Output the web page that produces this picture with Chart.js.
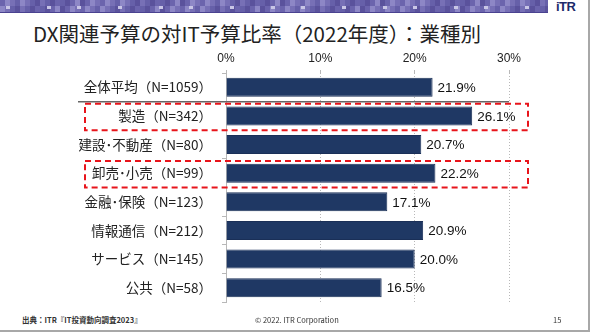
<!DOCTYPE html>
<html>
<head>
<meta charset="utf-8">
<script src="https://cdn.jsdelivr.net/npm/chart.js@4"></script>
<style>
  body { margin: 0; background: #fff; }
  #slide { position: relative; width: 590px; height: 332px; overflow: hidden; font-family: "Noto Sans CJK JP", "Noto Sans", sans-serif; color: #222; }
  #slide::after { content: ''; position: absolute; left: 0; top: 0; right: 0; bottom: 0; border-right: 2px solid #a8a8a8; border-bottom: 2px solid #a8a8a8; pointer-events: none; }
  #banner { position: absolute; left: 0; top: 0; width: 548px; height: 13px; }
  #logo { position: absolute; left: 556px; top: -1px; font: bold 13px "Liberation Sans", Arial, sans-serif; color: #1d2a6b; letter-spacing: -0.5px; }
  #title { position: absolute; left: 33px; top: 18px; font-size: 20.5px; white-space: nowrap; }
  .foot { position: absolute; top: 314px; font-size: 7.5px; color: #333; white-space: nowrap; }
  #chartWrap { position: absolute; left: 0; top: 0; width: 590px; height: 332px; }
</style>
</head>
<body>
<div id="slide">
  <canvas id="banner" width="548" height="13"></canvas>
  <div id="logo">iTR</div>
  <div id="title">DX関連予算の対IT予算比率（2022年度）：業種別</div>
  <div class="foot" style="left:22px;font-weight:bold;">出典：ITR『IT投資動向調査2023』</div>
  <div class="foot" style="left:255px;">© 2022. ITR Corporation</div>
  <div class="foot" style="left:553px;">15</div>
  <div id="chartWrap"><canvas id="chart"></canvas></div>
</div>
<script>
const categories = ['全体平均（N=1059）', '製造（N=342）', '建設･不動産（N=80）', '卸売･小売（N=99）', '金融･保険（N=123）', '情報通信（N=212）', 'サービス（N=145）', '公共（N=58）'];
const values = [21.9, 26.1, 20.7, 22.2, 17.1, 20.9, 20.0, 16.5];
const highlighted = [1, 3];
const xTicks = [0, 10, 20, 30];

// Banner mosaic
const bctx = document.getElementById('banner').getContext('2d');
bctx.fillStyle = '#5f57a3';
bctx.fillRect(0, 0, 548, 13);
const shades = ['#6b64ad', '#7770b6', '#5a529c', '#8d87c6', '#6660a9'];
for (let i = 0; i < 110; i++) {
  for (let j = 0; j < 2; j++) {
    bctx.fillStyle = shades[(i * 7 + j * 3 + (i % 4)) % shades.length];
    bctx.fillRect(i * 5, j * 6, 5, 6);
  }
}
for (let i = 3; i < 548; i += 37) {
  bctx.fillStyle = '#c9c6e6';
  bctx.fillRect(i + (i % 11), 6, 4, 3);
}
bctx.fillStyle = '#4a4290';
bctx.fillRect(0, 12, 548, 1);

const overlayPlugin = {
  id: 'overlay',
  afterDatasetsDraw(chart) {
    const { ctx, chartArea } = chart;
    const y = chart.scales.y;
    const half = (y.getPixelForValue(1) - y.getPixelForValue(0)) / 2;
    ctx.save();
    // separator under the average row
    ctx.strokeStyle = '#666';
    ctx.lineWidth = 1.5;
    ctx.beginPath();
    ctx.moveTo(78, y.getPixelForValue(0) + half);
    ctx.lineTo(chartArea.right, y.getPixelForValue(0) + half);
    ctx.stroke();
    // red dashed boxes
    ctx.strokeStyle = '#e8141b';
    ctx.lineWidth = 2;
    ctx.setLineDash([6, 4]);
    highlighted.forEach(i => {
      const c = y.getPixelForValue(i);
      ctx.strokeRect(85, c - half + 2, chartArea.right + 19 - 85, half * 2 - 2);
    });
    ctx.setLineDash([]);
    // value labels
    ctx.fillStyle = '#111';
    ctx.font = '13.5px "Liberation Sans", Arial, sans-serif';
    ctx.textBaseline = 'middle';
    ctx.textAlign = 'left';
    chart.getDatasetMeta(0).data.forEach((bar, i) => {
      ctx.fillText(values[i].toFixed(1) + '%', bar.x + 5, bar.y + 1);
    });
    ctx.restore();
  }
};

new Chart(document.getElementById('chart'), {
  type: 'bar',
  data: {
    labels: categories,
    datasets: [{
      data: values,
      backgroundColor: '#1f3864',
      borderColor: '#1a2f57',
      borderWidth: 1,
      categoryPercentage: 1,
      barPercentage: 0.66
    }]
  },
  options: {
    indexAxis: 'y',
    responsive: true,
    maintainAspectRatio: false,
    animation: false,
    layout: { padding: { left: 0, right: 81, top: 50, bottom: 30 } },
    plugins: { legend: { display: false }, tooltip: { enabled: false } },
    scales: {
      x: {
        position: 'top',
        min: 0,
        max: 30,
        afterBuildTicks: s => { s.ticks = xTicks.map(v => ({ value: v })); },
        afterFit: s => { s.height = 23; },
        ticks: {
          callback: v => v + '%',
          color: '#222',
          font: { family: '"Liberation Sans", Arial, sans-serif', size: 12 },
          padding: 4
        },
        grid: { color: '#b8b8b8', borderDash: [1, 2], tickLength: 3, drawTicks: true },
        border: { display: false, dash: [1, 2] }
      },
      y: {
        afterFit: s => { s.width = 226; },
        ticks: {
          color: '#222',
          font: { family: '"Noto Sans CJK JP", sans-serif', size: 13.5 },
          padding: 10
        },
        grid: { drawOnChartArea: false, color: '#b8b8b8', tickLength: 4, offset: true },
        border: { color: '#b8b8b8', width: 1 }
      }
    }
  },
  plugins: [overlayPlugin]
});
</script>
</body>
</html>
